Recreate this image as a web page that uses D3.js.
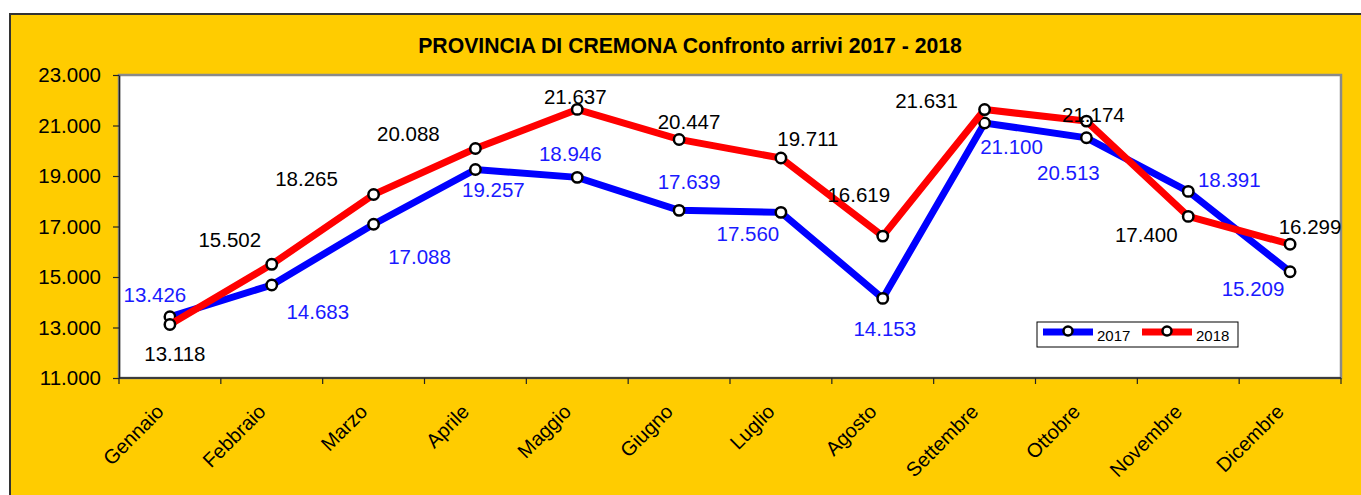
<!DOCTYPE html>
<html>
<head>
<meta charset="utf-8">
<script src="https://cdn.jsdelivr.net/npm/d3@7"></script>
<style>
  html, body { margin: 0; padding: 0; background: #ffffff; }
  svg { display: block; }
  text { font-family: "Liberation Sans", Arial, sans-serif; }
</style>
</head>
<body>
<svg id="chart" width="1361" height="495"></svg>
<script>
// ---- Data ----
const months = ["Gennaio", "Febbraio", "Marzo", "Aprile", "Maggio", "Giugno",
                "Luglio", "Agosto", "Settembre", "Ottobre", "Novembre", "Dicembre"];
const arrivi2017 = [13426, 14683, 17088, 19257, 18946, 17639, 17560, 14153, 21100, 20513, 18391, 15209];
const arrivi2018 = [13118, 15502, 18265, 20088, 21637, 20447, 19711, 16619, 21631, 21174, 17400, 16299];
const seriesNames = ["2017", "2018"];
const yTickValues = [11000, 13000, 15000, 17000, 19000, 21000, 23000];
const titleText = "PROVINCIA DI CREMONA Confronto arrivi 2017 - 2018";

// label placement offsets (pixels, relative to each point), style only
const labelOffsets2017 = [[-15,-22],[46,26],[46,32],[18,20],[-7,-24],[10,-29],[-33,21],[2,30],[27,24],[-18,35],[41,-12],[-37,17]];
const labelOffsets2018 = [[5,29],[-42,-25],[-67,-16],[-67,-15],[-2,-13],[10,-18],[27,-20],[-24,-42],[-58,-9],[7,-7],[-42,18],[20,-18]];

// ---- Layout ----
const svg = d3.select("#chart");
const plot = { left: 119, right: 1341, top: 75, bottom: 378 };

const fmt = d3.formatLocale({ decimal: ",", thousands: ".", grouping: [3], currency: ["", ""] }).format(",d");

const x = d3.scaleBand().domain(months).range([plot.left, plot.right]).padding(0);
const y = d3.scaleLinear().domain([11000, 23000]).range([plot.bottom, plot.top]);
const cx = m => x(m) + x.bandwidth() / 2;

// outer frame
svg.append("rect")
  .attr("x", 10).attr("y", 14).attr("width", 1400).attr("height", 520)
  .attr("fill", "#FFCC00").attr("stroke", "#333333").attr("stroke-width", 2);

// title
svg.append("text")
  .attr("x", 690).attr("y", 53)
  .attr("text-anchor", "middle")
  .attr("font-size", 21.2).attr("font-weight", "bold")
  .attr("fill", "#000")
  .text(titleText);

// plot area
svg.append("rect")
  .attr("x", plot.left).attr("y", plot.top)
  .attr("width", plot.right - plot.left).attr("height", plot.bottom - plot.top)
  .attr("fill", "#ffffff").attr("stroke", "#8a8a8a").attr("stroke-width", 2.5);

// y axis
const yAxis = d3.axisLeft(y).tickValues(yTickValues).tickFormat(fmt).tickSize(6).tickSizeOuter(0).tickPadding(12);
const gy = svg.append("g").attr("transform", `translate(${plot.left},0)`).call(yAxis);
gy.select(".domain").attr("stroke", "#222").attr("stroke-width", 1.5);
gy.selectAll(".tick line").attr("stroke", "#222").attr("stroke-width", 1.2);
gy.selectAll(".tick text").attr("font-size", 20.5).attr("fill", "#000")
  .attr("font-family", "'Liberation Sans', Arial, sans-serif");

// x axis line and ticks at category boundaries
svg.append("line")
  .attr("x1", plot.left).attr("x2", plot.right)
  .attr("y1", plot.bottom).attr("y2", plot.bottom)
  .attr("stroke", "#222").attr("stroke-width", 1.5);
const edges = months.map(m => x(m)).concat([x(months[months.length - 1]) + x.bandwidth()]);
svg.append("g").selectAll("line").data(edges).join("line")
  .attr("x1", d => d).attr("x2", d => d)
  .attr("y1", plot.bottom).attr("y2", plot.bottom + 6)
  .attr("stroke", "#222").attr("stroke-width", 1.2);

// x labels
svg.append("g").selectAll("text").data(months).join("text")
  .attr("transform", d => `translate(${cx(d) - 5},${413}) rotate(-45)`)
  .attr("text-anchor", "end")
  .attr("font-size", 20).attr("fill", "#000")
  .text(d => d);

// series
const series = [
  { name: seriesNames[0], values: arrivi2017, color: "#0000FF", labelColor: "#1a1aff", offsets: labelOffsets2017 },
  { name: seriesNames[1], values: arrivi2018, color: "#FF0000", labelColor: "#000000", offsets: labelOffsets2018 }
];

const line = d3.line().x((d, i) => cx(months[i])).y(d => y(d));

series.forEach(s => {
  const g = svg.append("g");
  g.append("path")
    .attr("d", line(s.values))
    .attr("fill", "none").attr("stroke", s.color)
    .attr("stroke-width", 7).attr("stroke-linejoin", "miter");
  g.selectAll("circle").data(s.values).join("circle")
    .attr("cx", (d, i) => cx(months[i])).attr("cy", d => y(d))
    .attr("r", 5.2)
    .attr("fill", "#fff").attr("stroke", "#000").attr("stroke-width", 2.5);
});

// data labels
series.forEach(s => {
  svg.append("g").selectAll("text").data(s.values).join("text")
    .attr("x", (d, i) => cx(months[i]) + s.offsets[i][0])
    .attr("y", (d, i) => y(d) + s.offsets[i][1])
    .attr("text-anchor", "middle")
    .attr("dominant-baseline", "central")
    .attr("font-size", 20.5).attr("fill", s.labelColor)
    .text(d => fmt(d));
});

// legend
const lg = svg.append("g");
lg.append("rect")
  .attr("x", 1037).attr("y", 322).attr("width", 201).attr("height", 25)
  .attr("fill", "#fff").attr("stroke", "#000").attr("stroke-width", 1);
series.forEach((s, i) => {
  const x0 = 1043 + i * 99;
  lg.append("line")
    .attr("x1", x0).attr("x2", x0 + 50).attr("y1", 332).attr("y2", 332)
    .attr("stroke", s.color).attr("stroke-width", 7);
  lg.append("circle")
    .attr("cx", x0 + 25).attr("cy", 331).attr("r", 4.5)
    .attr("fill", "#fff").attr("stroke", "#000").attr("stroke-width", 2.5);
  lg.append("text")
    .attr("x", x0 + 54).attr("y", 341)
    .attr("font-size", 15).attr("fill", "#000")
    .text(s.name);
});
</script>
</body>
</html>
